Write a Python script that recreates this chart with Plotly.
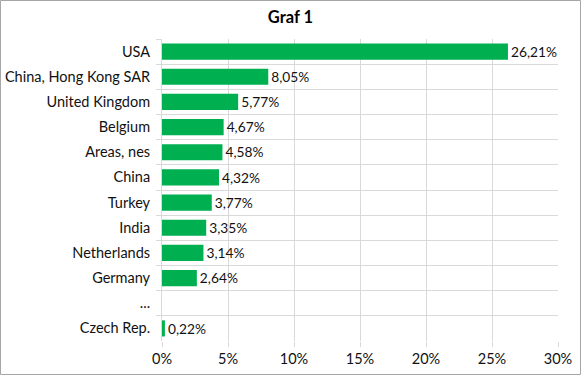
import plotly.graph_objects as go

categories = ["USA", "China, Hong Kong SAR", "United Kingdom", "Belgium", "Areas, nes",
              "China", "Turkey", "India", "Netherlands", "Germany", "...", "Czech Rep."]
values = [26.21, 8.05, 5.77, 4.67, 4.58, 4.32, 3.77, 3.35, 3.14, 2.64, None, 0.22]
x_ticks = [0, 5, 10, 15, 20, 25, 30]
x_tick_labels = ["0%", "5%", "10%", "15%", "20%", "25%", "30%"]

labels = ["" if v is None else f"{v:.2f}".replace(".", ",") + "%" for v in values]

FONT = "Lato, Open Sans, sans-serif"
GRID = "#D9D9D9"
FS = 14.5

fig = go.Figure(go.Bar(
    x=values, y=categories, orientation="h",
    marker=dict(color="#00B050", line=dict(width=0)),
    text=labels, textposition="outside", cliponaxis=False,
    textfont=dict(family=FONT, size=FS, color="#111111"),
    hoverinfo="skip",
))

W, H = 581, 375
L, R, T, B = 162, 23, 39, 34
pw, ph = W - L - R, H - T - B

fig.update_layout(
    width=W, height=H,
    margin=dict(l=L, r=R, t=T, b=B),
    paper_bgcolor="white", plot_bgcolor="white",
    bargap=0.36, showlegend=False,
    font=dict(family=FONT, size=FS, color="#111111"),
    title=dict(text="<b>Graf 1</b>", x=0.5, xanchor="center", y=1 - 17 / H, yanchor="middle",
               font=dict(family=FONT, size=16.5, color="#000000")),
    xaxis=dict(range=[0, 30], tickvals=x_ticks, ticktext=x_tick_labels,
               showgrid=True, gridcolor=GRID, gridwidth=1,
               ticks="outside", ticklen=5, tickcolor=GRID, automargin=False,
               zeroline=False, showline=False, fixedrange=True),
    yaxis=dict(type="category", categoryorder="array", categoryarray=categories,
               autorange="reversed", tickson="boundaries",
               showgrid=True, gridcolor=GRID, gridwidth=1,
               ticks="outside", ticklen=5, tickcolor=GRID, ticklabelstandoff=8,
               automargin=False,
               showline=True, linecolor=GRID, linewidth=1,
               zeroline=False, fixedrange=True),
    shapes=[dict(type="rect", xref="paper", yref="paper",
                 x0=(0.5 - L) / pw, x1=(W - 0.5 - L) / pw,
                 y0=(H - B - (H - 0.5)) / ph, y1=(H - B - 0.5) / ph,
                 line=dict(color="#A6A6A6", width=1), fillcolor="rgba(0,0,0,0)",
                 layer="above")],
)

fig.write_html("out.html", config={"displayModeBar": False},
               post_script="document.body.style.margin='0';")
